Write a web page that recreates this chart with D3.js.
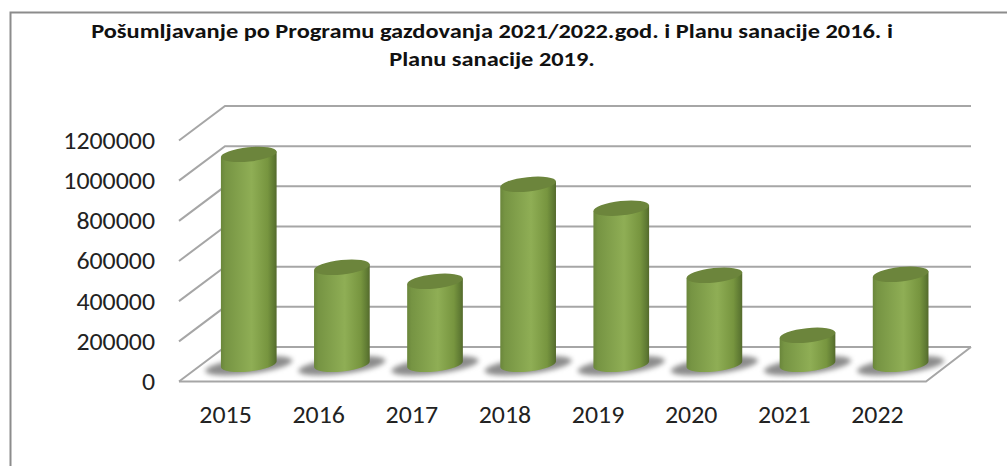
<!DOCTYPE html>
<html><head><meta charset="utf-8">
<script src="https://cdnjs.cloudflare.com/ajax/libs/d3/7.8.5/d3.min.js"></script>
<style>html,body{margin:0;padding:0;background:#fff}svg{display:block}</style></head>
<body><svg id="c" width="1007" height="466"></svg>
<script>
const years=["2015","2016","2017","2018","2019","2020","2021","2022"];
const values=[1045000,483000,413000,896000,777000,443000,144000,448000];
const ticks=[0,200000,400000,600000,800000,1000000,1200000];
const titleLines=["Pošumljavanje po Programu gazdovanja 2021/2022.god. i Planu sanacije 2016. i","Planu sanacije 2019."];

const svg=d3.select("#c");
const font="Carlito, Calibri, 'Open Sans', 'Noto Sans', sans-serif";
const defs=svg.append("defs");
const bodyG=defs.append("linearGradient").attr("id","body");
[[0,"#6a863b"],[.08,"#769443"],[.55,"#8fae55"],[.84,"#77953f"],[.95,"#5f7a33"],[1,"#54692c"]].forEach(([o,c])=>bodyG.append("stop").attr("offset",o).attr("stop-color",c));
defs.append("filter").attr("id","blur").attr("x","-30%").attr("y","-100%").attr("width","160%").attr("height","300%")
  .append("feGaussianBlur").attr("stdDeviation",2.6);

// frame
svg.append("path").attr("d","M10.5,466V12.5H1007").attr("fill","none").attr("stroke","#8c8c8c").attr("stroke-width",2);

svg.append("g").selectAll("text").data(titleLines).join("text")
 .attr("transform",(d,i)=>`translate(492,${38+i*28}) scale(1.19,1)`).attr("text-anchor","middle")
 .attr("font-family",font).attr("font-weight","bold").attr("font-size",20.5).attr("fill","#111").text(d=>d);

const y=d3.scaleLinear().domain([0,1200000]).range([381.5,140.5]);
const depth={dx:46,dy:-34.5};
const x=d3.scaleBand().domain(years).range([179,924]);
const grid=svg.append("g").attr("fill","none").attr("stroke","#a6a6a6").attr("stroke-width",2);
ticks.forEach(t=>{
  const Y=y(t);
  grid.append("path").attr("d",`M179,${Y}L${179+depth.dx},${Y+depth.dy}H971`);
});
grid.append("path").attr("d",`M179,${y(0)}H926L971,${y(0)+depth.dy}`);

// axis labels
const yAxis=d3.axisLeft(y).tickValues(ticks).tickFormat(d3.format("d")).tickSize(0).tickPadding(0);
const ya=svg.append("g").attr("transform","translate(155,0)").call(yAxis);
ya.select(".domain").remove();
ya.selectAll("text").attr("font-family",font).attr("font-size",23.5).attr("fill","#222").attr("dy","0.34em").attr("transform","scale(1.1,1)");

const xAxis=d3.axisBottom(x).tickSize(0).tickPadding(0);
const xa=svg.append("g").attr("transform","translate(0,406)").call(xAxis);
xa.select(".domain").remove();
xa.selectAll("text").attr("font-family",font).attr("font-size",23.5).attr("fill","#222").attr("dy","0.71em").attr("transform","scale(1.1,1)");

// cylinders: depth sits half way back in the 3D floor
const rx=28, ry=7.2, tilt=-6, cxOff=x.bandwidth()/2+23.2, base=y(0)+depth.dy*0.5;
const ex=rx*Math.cos(tilt*Math.PI/180), ey=rx*Math.sin(tilt*Math.PI/180);
const bars=svg.append("g").selectAll("g").data(years.map((k,i)=>({k,v:values[i]}))).join("g");
bars.append("ellipse").attr("filter","url(#blur)").attr("fill","#8c8c8c")
 .attr("transform",d=>`translate(${x(d.k)+cxOff},${base+1.5}) rotate(-7)`).attr("rx",44).attr("ry",8);
bars.append("path").attr("fill","url(#body)").attr("d",d=>{
  const c=x(d.k)+cxOff, top=base-(y(0)-y(d.v));
  return `M${c-ex},${top-ey}L${c+ex},${top+ey}V${base+ey}A${rx},${ry} ${tilt} 0 1 ${c-ex},${base-ey}Z`;
});
bars.append("ellipse").attr("fill","#6c853c")
 .attr("transform",d=>`translate(${x(d.k)+cxOff},${base-(y(0)-y(d.v))}) rotate(${tilt})`)
 .attr("rx",rx).attr("ry",ry);
</script></body></html>
